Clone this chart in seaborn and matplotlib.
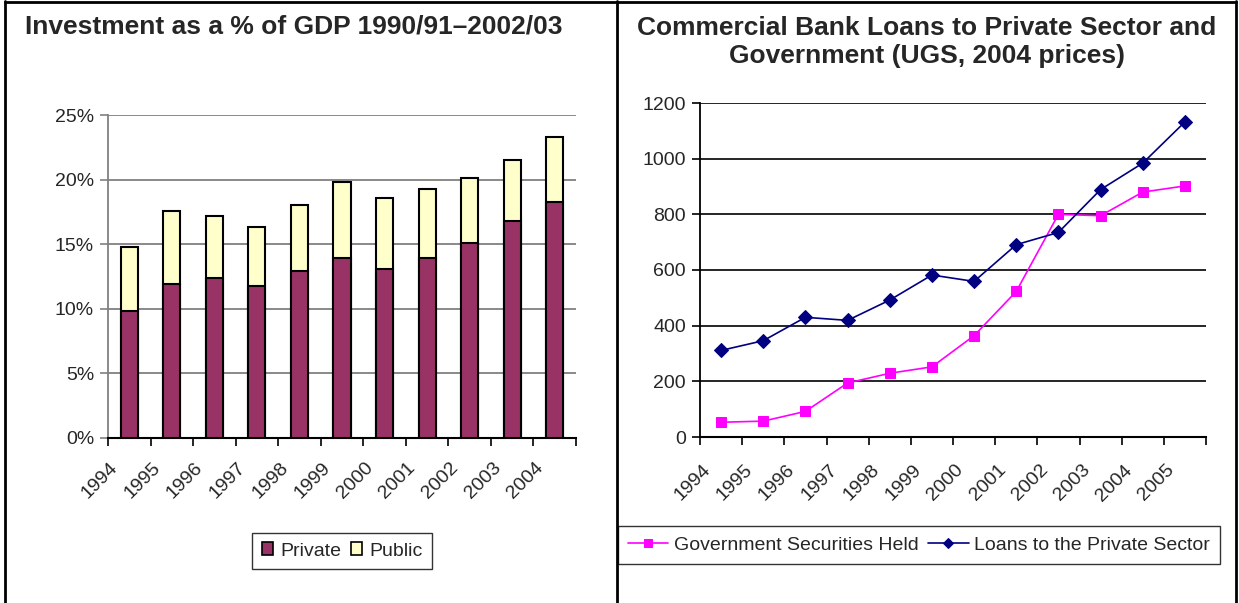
import numpy as np
import pandas as pd
import matplotlib
matplotlib.use("Agg")
import matplotlib.pyplot as plt
from matplotlib.ticker import FuncFormatter, MultipleLocator, FixedLocator
from matplotlib.patches import Patch
from matplotlib.lines import Line2D
import seaborn as sns

# ---- data -------------------------------------------------------------
inv_years = ["1994", "1995", "1996", "1997", "1998", "1999",
             "2000", "2001", "2002", "2003", "2004"]
private_share = [9.8, 11.9, 12.35, 11.8, 12.9, 13.9, 13.05, 13.9, 15.1, 16.8, 18.25]
public_share = [4.95, 5.65, 4.8, 4.5, 5.1, 5.9, 5.5, 5.35, 5.0, 4.7, 5.05]

loan_years = ["1994", "1995", "1996", "1997", "1998", "1999",
              "2000", "2001", "2002", "2003", "2004", "2005"]
gov_securities = [53, 57, 92, 194, 229, 252, 364, 523, 800, 795, 880, 902]
private_loans = [311, 346, 430, 419, 492, 582, 559, 691, 735, 889, 984, 1132]

PRIVATE_COL = "#993366"
PUBLIC_COL = "#FFFFCC"
GOV_COL = "#FF00FF"
LOAN_COL = "#000080"

sns.set_theme(style="white")
plt.rcParams["font.family"] = ["Liberation Sans", "DejaVu Sans"]

W, H = 1239, 603
fig = plt.figure(figsize=(W / 100, H / 100), dpi=100)
fig.patch.set_facecolor("white")


def px_axes(x0, y0, x1, y1):
    return fig.add_axes([x0 / W, 1 - y1 / H, (x1 - x0) / W, (y1 - y0) / H])


def fx(x):
    return x / W


def fy(y):
    return 1 - y / H


# panel frames
frame_kw = dict(color="black", lw=2, transform=fig.transFigure)
for xs, ys in [((5, 5), (1, H)), ((617, 617), (1, H)), ((1236, 1236), (1, H)),
               ((5, 1236), (1.5, 1.5))]:
    fig.add_artist(Line2D([fx(x) for x in xs], [fy(y) for y in ys], **frame_kw))

tick_fs = 14
title_fs = 19

# ---- left panel: stacked investment bars --------------------------------
inv = pd.DataFrame({
    "year": inv_years,
    "private": private_share,
    "public": public_share,
})
inv["total"] = inv["private"] + inv["public"]

ax1 = px_axes(108, 115, 576, 438)
sns.barplot(data=inv, x="year", y="total", color=PUBLIC_COL, saturation=1,
            width=0.4, edgecolor="black", linewidth=1.5, ax=ax1, zorder=3)
sns.barplot(data=inv, x="year", y="private", color=PRIVATE_COL, saturation=1,
            width=0.4, edgecolor="black", linewidth=1.5, ax=ax1, zorder=4)
ax1.set_xlim(-0.5, len(inv_years) - 0.5)
ax1.set_ylim(0, 25)
ax1.yaxis.set_major_locator(MultipleLocator(5))
ax1.yaxis.set_major_formatter(FuncFormatter(lambda v, _: f"{v:.0f}%"))
ax1.grid(axis="y", color="#808080", lw=1.3, zorder=0)
ax1.set_axisbelow(True)
ax1.set_xlabel("")
ax1.set_ylabel("")
fig.text(fx(294), fy(26), "Investment as a % of GDP 1990/91\u20132002/03",
         fontsize=title_fs, fontweight="bold", ha="center", va="center")

# ---- right panel: bank lending lines ------------------------------------
ax2 = px_axes(700, 103, 1206, 437)
xpos = np.arange(len(loan_years))
sns.lineplot(x=xpos, y=gov_securities, color=GOV_COL, marker="s",
             markersize=7, markeredgecolor=GOV_COL, lw=1.2, ax=ax2, zorder=4,
             label="Government Securities Held")
sns.lineplot(x=xpos, y=private_loans, color=LOAN_COL, marker="D",
             markersize=7, markeredgecolor=LOAN_COL, lw=1.2, ax=ax2, zorder=5,
             label="Loans to the Private Sector")
ax2.set_xlim(-0.5, len(loan_years) - 0.5)
ax2.set_ylim(0, 1200)
ax2.yaxis.set_major_locator(MultipleLocator(200))
ax2.grid(axis="y", color="black", lw=1.2, zorder=0)
ax2.set_axisbelow(True)
fig.text(fx(927), fy(28), "Commercial Bank Loans to Private Sector and",
         fontsize=title_fs, fontweight="bold", ha="center", va="center")
fig.text(fx(927), fy(56), "Government (UGS, 2004 prices)",
         fontsize=title_fs, fontweight="bold", ha="center", va="center")

# shared axis styling: category boundaries carry the tick marks, the
# slanted year labels sit just left of each category centre
for ax, labels, spine_col, lab_shift, pad in [(ax1, inv_years, "#808080", 0.33, 19.5),
                                               (ax2, loan_years, "black", 0.31, 22)]:
    n = len(labels)
    for s in ("top", "right"):
        ax.spines[s].set_visible(False)
    ax.spines["left"].set_color(spine_col)
    ax.spines["left"].set_linewidth(1.3)
    ax.spines["bottom"].set_color("black")
    ax.spines["bottom"].set_linewidth(1.5)
    ax.set_xticks(np.arange(n) - lab_shift)
    ax.set_xticklabels(labels, rotation=45, ha="right", va="center",
                       rotation_mode="anchor", fontsize=tick_fs)
    ax.xaxis.set_minor_locator(FixedLocator(np.arange(n + 1) - 0.5))
    ax.tick_params(axis="x", which="major", length=0, pad=pad)
    ax.tick_params(axis="x", which="minor", length=6, width=1.2,
                   direction="out", color="black", bottom=True)
    ax.tick_params(axis="y", length=6, width=1.2, direction="out",
                   color=spine_col, labelsize=tick_fs, left=True, pad=4)
    ax.set_xlim(-0.5, n - 0.5)
    ax.set_facecolor("white")

# ---- legends ------------------------------------------------------------
leg1 = ax1.legend(
    handles=[Patch(facecolor=PRIVATE_COL, edgecolor="black", lw=1.2, label="Private"),
             Patch(facecolor=PUBLIC_COL, edgecolor="black", lw=1.2, label="Public")],
    loc="center", bbox_to_anchor=(fx(342), fy(551)), bbox_transform=fig.transFigure,
    ncol=2, fontsize=tick_fs, frameon=True, fancybox=False, edgecolor="black",
    handlelength=0.6, handleheight=0.6, handletextpad=0.35, columnspacing=0.5,
    borderpad=0.5, borderaxespad=0)
leg1.get_frame().set_linewidth(1.0)

handles, labels = ax2.get_legend_handles_labels()
leg2 = ax2.legend(
    handles=handles, labels=labels,
    loc="center", bbox_to_anchor=(fx(919), fy(545)), bbox_transform=fig.transFigure,
    ncol=2, fontsize=tick_fs, frameon=True, fancybox=False, edgecolor="black",
    handlelength=2.1, handletextpad=0.3, columnspacing=0.45, borderpad=0.5,
    markerscale=0.8, borderaxespad=0)
leg2.get_frame().set_linewidth(1.0)

fig.savefig("out.png", dpi=100, facecolor="white")
